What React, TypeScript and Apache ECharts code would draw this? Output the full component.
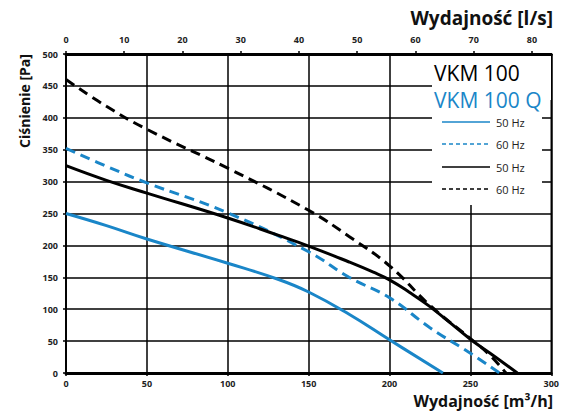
import React, { useEffect, useRef } from "react";
import * as echarts from "echarts";

const flowTicksM3h = [0, 50, 100, 150, 200, 250, 300];
const flowTicksLs = [0, 10, 20, 30, 40, 50, 60, 70, 80];

const q50Hz: [number, number][] = [[0, 250], [25, 231], [50, 210], [100, 172], [131, 147], [150, 127], [175, 92], [200, 52], [233, 0]];
const q60Hz: [number, number][] = [[0, 352], [25, 324], [50, 298], [100, 251], [150, 190], [175, 150], [200, 118], [225, 71], [250, 31], [268, 0]];
const std50Hz: [number, number][] = [[0, 325], [25, 302], [50, 282], [100, 243], [131, 216], [150, 199], [175, 174], [190, 158], [200, 146], [212, 127], [225, 104], [250, 53], [265, 26], [279, 0]];
const std60Hz: [number, number][] = [[0, 460], [25, 418], [50, 382], [100, 321], [150, 255], [175, 214], [200, 168], [225, 106], [250, 54], [262, 28], [272, 0]];

const BLUE = "#1a86c8";
const FONT = "'Open Sans', 'Noto Sans', sans-serif";

export default function App() {
  const ref = useRef<HTMLDivElement>(null);
  useEffect(() => {
    if (!ref.current) return;
    const chart = echarts.init(ref.current, null, { renderer: "svg" });
    const label = { color: "#222", fontSize: 9, fontWeight: "bold" as const, fontFamily: FONT };
    const mk = (name: string, data: [number, number][], color: string, dashed: boolean) => ({
      name,
      type: "line",
      data,
      smooth: 0.45,
      symbol: "none",
      xAxisIndex: 0,
      yAxisIndex: 0,
      lineStyle: { color, width: 3, type: dashed ? [10, 6] : "solid" },
      z: 3,
    });
    chart.setOption({
      animation: false,
      backgroundColor: "#fff",
      grid: { left: 66, right: 8, top: 54, bottom: 39, show: true, borderColor: "#000", borderWidth: 1.5 },
      xAxis: [
        {
          type: "value", min: 0, max: 300, interval: 50, position: "bottom",
          axisLine: { show: true, lineStyle: { color: "#000", width: 3 } },
          axisTick: { show: true, length: 3, lineStyle: { color: "#000", width: 1.5 } },
          splitLine: { show: true, lineStyle: { color: "#000", width: 1.5 } },
          axisLabel: { ...label, margin: 6, formatter: (v: number) => (flowTicksM3h.includes(v) ? String(v) : "") },
        },
        {
          type: "value", min: 0, max: 300 / 3.6, interval: 10, position: "top",
          axisLine: { show: true, lineStyle: { color: "#000", width: 3 } },
          axisTick: { show: true, length: 3, lineStyle: { color: "#000", width: 1.5 } },
          splitLine: { show: false },
          axisLabel: { ...label, margin: 10, showMaxLabel: false, formatter: (v: number) => (flowTicksLs.includes(v) ? String(v) : "") },
        },
      ],
      yAxis: [
        {
          type: "value", min: 0, max: 500, interval: 50,
          axisLine: { show: true, lineStyle: { color: "#000", width: 1.5 } },
          axisTick: { show: true, length: 3, lineStyle: { color: "#000", width: 1.5 } },
          splitLine: { show: true, lineStyle: { color: "#000", width: 1.5 } },
          axisLabel: { ...label, margin: 8 },
        },
      ],
      series: [
        mk("VKM 100 Q 50 Hz", q50Hz, BLUE, false),
        mk("VKM 100 Q 60 Hz", q60Hz, BLUE, true),
        mk("VKM 100 50 Hz", std50Hz, "#000", false),
        mk("VKM 100 60 Hz", std60Hz, "#000", true),
      ],
      graphic: [
        { type: "rect", shape: { x: 432, y: 56, width: 119, height: 44 }, style: { fill: "#fff" }, z: 10 },
        { type: "rect", shape: { x: 432, y: 56, width: 110, height: 149 }, style: { fill: "#fff" }, z: 10 },
        { type: "text", x: 434, y: 73, style: { text: "VKM 100", fill: "#000", font: `21px ${FONT}`, textVerticalAlign: "middle" }, z: 11 },
        { type: "text", x: 434, y: 100, style: { text: "VKM 100 Q", fill: BLUE, font: `21px ${FONT}`, textVerticalAlign: "middle" }, z: 11 },
        { type: "line", shape: { x1: 442, y1: 122, x2: 490, y2: 122 }, style: { stroke: BLUE, lineWidth: 1.5 }, z: 11 },
        { type: "line", shape: { x1: 442, y1: 144, x2: 490, y2: 144 }, style: { stroke: BLUE, lineWidth: 1.5, lineDash: [4, 3] }, z: 11 },
        { type: "line", shape: { x1: 442, y1: 167, x2: 490, y2: 167 }, style: { stroke: "#000", lineWidth: 1.5 }, z: 11 },
        { type: "line", shape: { x1: 442, y1: 189, x2: 490, y2: 189 }, style: { stroke: "#000", lineWidth: 1.5, lineDash: [4, 3] }, z: 11 },
        { type: "text", x: 496, y: 122, style: { text: "50 Hz", fill: "#222", font: `11px ${FONT}`, textVerticalAlign: "middle" }, z: 11 },
        { type: "text", x: 496, y: 144, style: { text: "60 Hz", fill: "#222", font: `11px ${FONT}`, textVerticalAlign: "middle" }, z: 11 },
        { type: "text", x: 496, y: 167, style: { text: "50 Hz", fill: "#222", font: `11px ${FONT}`, textVerticalAlign: "middle" }, z: 11 },
        { type: "text", x: 496, y: 189, style: { text: "60 Hz", fill: "#222", font: `11px ${FONT}`, textVerticalAlign: "middle" }, z: 11 },
        { type: "text", x: 553, y: 18, style: { text: "Wydajność [l/s]", fill: "#111", font: `bold 19px ${FONT}`, textAlign: "right", textVerticalAlign: "middle" }, z: 11 },
        { type: "text", x: 553, y: 401, style: { text: "Wydajność [m³/h]", fill: "#111", font: `bold 16px ${FONT}`, textAlign: "right", textVerticalAlign: "middle" }, z: 11 },
        { type: "text", x: 24, y: 101, rotation: Math.PI / 2, style: { text: "Ciśnienie [Pa]", fill: "#111", font: `bold 14px ${FONT}`, textAlign: "center", textVerticalAlign: "middle" }, z: 11 },
      ],
    });
    return () => chart.dispose();
  }, []);
  return <div ref={ref} style={{ position: "fixed", left: 0, top: 0, width: 562, height: 412 }} />;
}
